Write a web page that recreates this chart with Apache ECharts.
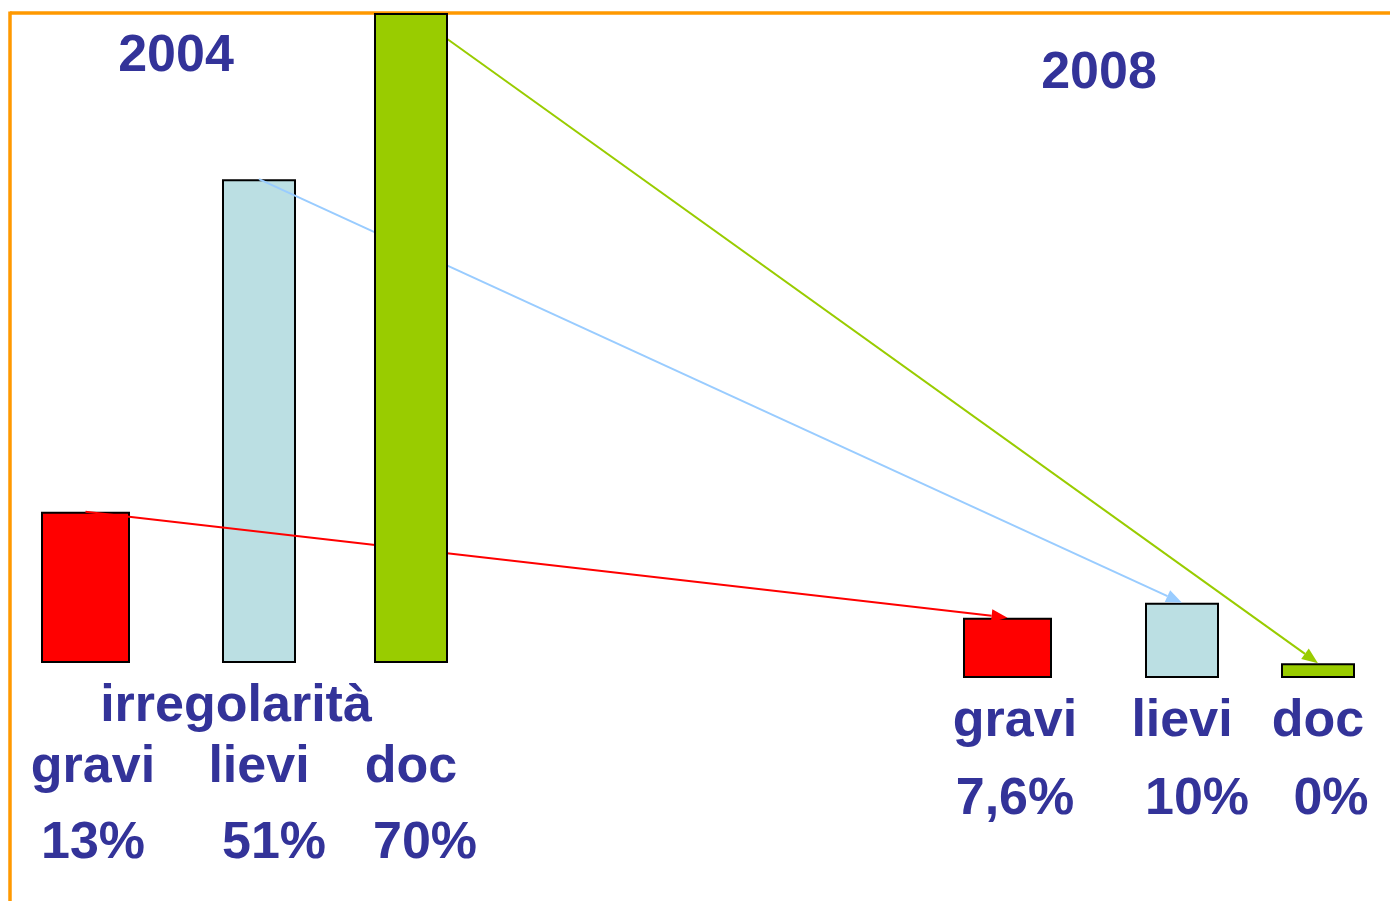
<!DOCTYPE html>
<html><head><meta charset="utf-8">
<script src="https://cdn.jsdelivr.net/npm/echarts@6/dist/echarts.min.js"></script>
<style>html,body{margin:0;padding:0;background:#fff}#c{width:1390px;height:901px}</style>
</head><body><div id="c"></div>
<script>
// ---- data ----
const categories = ['gravi', 'lievi', 'doc'];
const years = ['2004', '2008'];
const heights2004 = [16.3, 52.1, 70];   // bar heights as drawn (same unit scale for both years)
const heights2008 = [6.5, 8.1, 1.6];
const pct2004 = ['13%', '51%', '70%'];
const pct2008 = ['7,6%', '10%', '0%'];
const groupTitle = 'irregolarità';

// ---- styles ----
const barColors = ['#FF0000', '#BBDFE3', '#99CC00'];
const arrowColors = ['#FF0000', '#99CCFF', '#99CC00'];
const TEXT = '#333399';
const FONT_FAMILY = '"Liberation Sans", Arial, sans-serif';

function only(arr, i) { return arr.map((v, k) => (k === i ? v : '-')); }

function yearSeries(heights, axisIdx, stackName, gap, docZ) {
  return categories.map((c, i) => {
    const s = {
      type: 'bar', name: c + ' ' + years[axisIdx],
      xAxisIndex: axisIdx, yAxisIndex: axisIdx,
      data: only(heights, i),
      barWidth: i === 0 ? 89 : 74,
      barGap: gap,
      z: i === 2 ? docZ : 2,
      itemStyle: { color: barColors[i], borderColor: '#000', borderWidth: 2 },
      emphasis: { disabled: true },
      silent: true
    };
    if (i > 0) s.stack = stackName;
    return s;
  });
}

const chart = echarts.init(document.getElementById('c'), null, { renderer: 'canvas' });
chart.setOption({
  animation: false,
  backgroundColor: '#ffffff',
  grid: [
    { left: 16.5, width: 456, top: 13, bottom: 238 },
    { left: 955, width: 408, top: 28, bottom: 223 }
  ],
  xAxis: [
    { type: 'category', gridIndex: 0, data: categories, show: false },
    { type: 'category', gridIndex: 1, data: categories, show: false }
  ],
  yAxis: [
    { type: 'value', gridIndex: 0, min: 0, max: 70, show: false },
    { type: 'value', gridIndex: 1, min: 0, max: 70, show: false }
  ],
  series: [
    ...yearSeries(heights2004, 0, 's2004', '-67.42%', 6),
    ...yearSeries(heights2008, 1, 's2008', '-48.31%', 2)
  ]
});

function txt(text, x, y) {
  return {
    type: 'text', z: 10, silent: true,
    style: { text, x, y, align: 'center', verticalAlign: 'middle',
      fontSize: 52, fontWeight: 'bold', fontFamily: FONT_FAMILY, fill: TEXT }
  };
}

function barTop(seriesIndex, dataIndex) {
  const lay = chart.getModel().getSeriesByIndex(seriesIndex).getData().getItemLayout(dataIndex);
  return [lay.x + lay.width / 2, Math.min(lay.y, lay.y + lay.height)];
}

function arrow(p, q, color) {
  const dx = q[0] - p[0], dy = q[1] - p[1];
  const len = Math.sqrt(dx * dx + dy * dy);
  const ux = dx / len, uy = dy / len, nx = -uy, ny = ux;
  const L = 16, W = 6.5;
  const bx = q[0] - L * ux, by = q[1] - L * uy;
  return [
    { type: 'line', z: 4, silent: true,
      shape: { x1: p[0], y1: p[1], x2: bx, y2: by },
      style: { stroke: color, lineWidth: 2 } },
    { type: 'polygon', z: 4, silent: true,
      shape: { points: [[q[0], q[1]], [bx + W * nx, by + W * ny], [bx - W * nx, by - W * ny]] },
      style: { fill: color } }
  ];
}

const elements = [
  { type: 'line', z: 1, silent: true, shape: { x1: 10, y1: 13, x2: 1390, y2: 13 },
    style: { stroke: '#FF9900', lineWidth: 3.5 } },
  { type: 'line', z: 1, silent: true, shape: { x1: 10, y1: 11.5, x2: 10, y2: 901 },
    style: { stroke: '#FF9900', lineWidth: 3.5 } },
  txt(years[0], 176, 57),
  txt(years[1], 1099, 74),
  txt(groupTitle, 236, 707),
  txt(categories[0], 93, 768), txt(categories[1], 259, 768), txt(categories[2], 411, 768),
  txt(pct2004[0], 93, 844), txt(pct2004[1], 274, 844), txt(pct2004[2], 425, 844),
  txt(categories[0], 1015, 722), txt(categories[1], 1182, 722), txt(categories[2], 1318, 722),
  txt(pct2008[0], 1015, 800), txt(pct2008[1], 1197, 800), txt(pct2008[2], 1331, 800)
];
for (let i = 0; i < 3; i++) {
  elements.push(...arrow(barTop(i, i), barTop(3 + i, i), arrowColors[i]));
}
chart.setOption({ graphic: { elements } });
</script>
</body></html>
